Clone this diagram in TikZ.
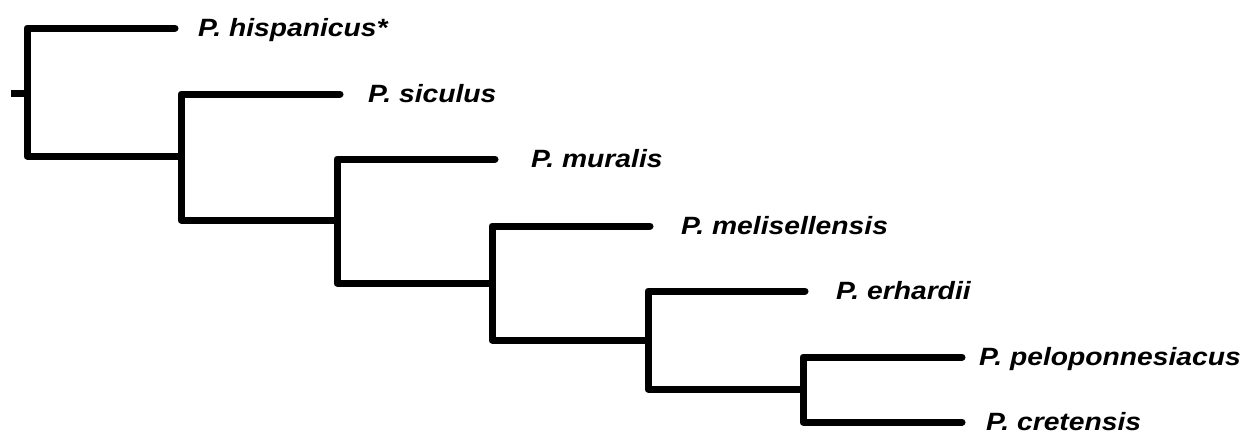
\documentclass[tikz,border=0pt]{standalone}
\usepackage{fontspec}
\newfontfamily\labfont[FakeStretch=1.13]{Liberation Sans}
\begin{document}
\begin{tikzpicture}[x=1pt,y=-1pt,
  branch/.style={line width=7pt, line cap=round, line join=round},
  lab/.style={font=\labfont\bfseries\itshape\fontsize{25}{30}\selectfont, anchor=base west, inner sep=0pt}]
\path[use as bounding box] (0,0) rectangle (1256,434);
% internal nodes
\coordinate (r0) at (11,93);
\coordinate (n1) at (27,93);
\coordinate (n2) at (181,156);
\coordinate (n3) at (337,220);
\coordinate (n4) at (492,283);
\coordinate (n5) at (648,340);
\coordinate (n6) at (803,389);
% leaf tips
\coordinate (t1) at (175,28);
\coordinate (t2) at (340,94);
\coordinate (t3) at (495,159);
\coordinate (t4) at (650,226);
\coordinate (t5) at (805,291);
\coordinate (t6) at (962,357);
\coordinate (t7) at (962,422);
% labels
\node[lab] (l1) at (198,36.5) {P. hispanicus*};
\node[lab] (l2) at (368,102.5) {P. siculus};
\node[lab] (l3) at (531,167.5) {P. muralis};
\node[lab] (l4) at (681,234.5) {P. melisellensis};
\node[lab] (l5) at (836,299.5) {P. erhardii};
\node[lab] (l6) at (979,365.5) {P. peloponnesiacus};
\node[lab] (l7) at (986,430.5) {P. cretensis};
% branches
\draw[branch, line cap=butt] (r0) -- (n1);
\draw[branch] (t1) -| (n1) |- (n2);
\draw[branch] (t2) -| (n2) |- (n3);
\draw[branch] (t3) -| (n3) |- (n4);
\draw[branch] (t4) -| (n4) |- (n5);
\draw[branch] (t5) -| (n5) |- (n6);
\draw[branch] (t6) -| (n6) |- (t7);
\end{tikzpicture}
\end{document}
